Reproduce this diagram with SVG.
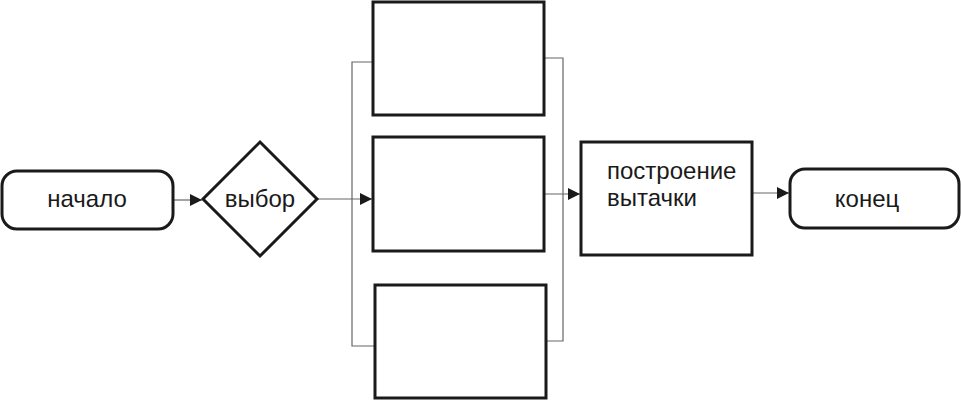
<svg xmlns="http://www.w3.org/2000/svg" width="961" height="400" viewBox="0 0 961 400">
<style>
.shape{fill:#fff;stroke:#1a1a1a;stroke-width:3}
.conn{fill:none;stroke:#666;stroke-width:1.2}
.lbl{font-family:"Liberation Sans",Arial,sans-serif;font-size:24px;fill:#1a1a1a}
</style>
<defs>
<marker id="arr" viewBox="0 0 12 12" refX="12" refY="6" markerWidth="12" markerHeight="12" markerUnits="userSpaceOnUse" orient="auto">
<path d="M0,0 L12,6 L0,12 Z" fill="#1a1a1a"/>
</marker>
</defs>
<rect width="961" height="400" fill="#fff"/>
<g id="connectors">
<path class="conn" d="M173,200 H202" marker-end="url(#arr)"/>
<path class="conn" d="M317,199 H372" marker-end="url(#arr)"/>
<path class="conn" d="M373,62 H352 V346 H374"/>
<path class="conn" d="M545,58 H563 V341 H546"/>
<path class="conn" d="M544,194 H580" marker-end="url(#arr)"/>
<path class="conn" d="M752,193 H789" marker-end="url(#arr)"/>
</g>
<g id="start">
<rect class="shape" x="2" y="171" width="171" height="58" rx="15"/>
<text class="lbl" x="87" y="207" text-anchor="middle">начало</text>
</g>
<g id="choice">
<polygon class="shape" points="260,142 317,199 260,256 203,199"/>
<text class="lbl" x="260" y="207" text-anchor="middle">выбор</text>
</g>
<g id="box1">
<rect class="shape" x="373" y="2" width="171" height="113"/>
</g>
<g id="box2">
<rect class="shape" x="373" y="137" width="171" height="114"/>
</g>
<g id="box3">
<rect class="shape" x="375" y="285" width="171" height="113"/>
</g>
<g id="build">
<rect class="shape" x="581" y="142" width="171" height="113"/>
<text class="lbl" x="607" y="179">построение</text>
<text class="lbl" x="607" y="206">вытачки</text>
</g>
<g id="end">
<rect class="shape" x="790" y="169" width="169" height="59" rx="15"/>
<text class="lbl" x="867" y="207" text-anchor="middle">конец</text>
</g>
</svg>
